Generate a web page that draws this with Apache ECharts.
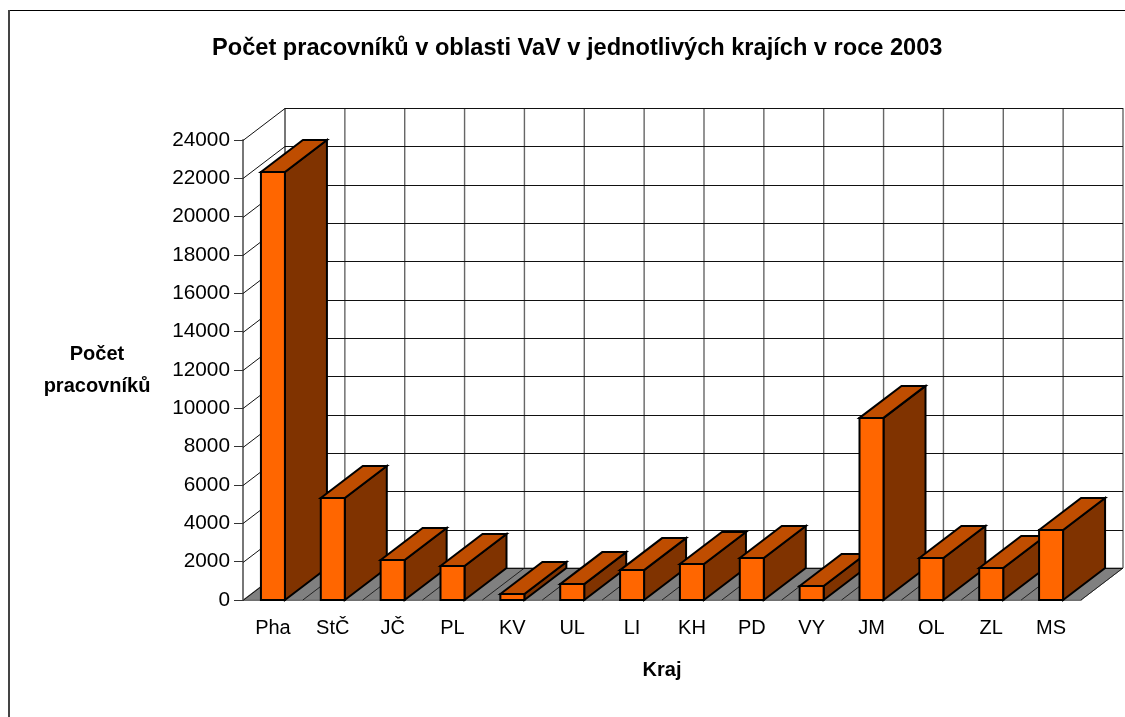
<!DOCTYPE html>
<html><head><meta charset="utf-8">
<style>html,body{margin:0;padding:0;background:#fff}#c{width:1125px;height:717px}</style>
<script src="https://cdn.jsdelivr.net/npm/echarts@6/dist/echarts.min.js"></script>
</head><body><div id="c"></div>
<script>
const categories = ['Pha','StČ','JČ','PL','KV','UL','LI','KH','PD','VY','JM','OL','ZL','MS'];
const workers = [22330,5320,2090,1770,310,830,1560,1880,2190,730,9500,2190,1670,3650];
const yTicks = [0,2000,4000,6000,8000,10000,12000,14000,16000,18000,20000,22000,24000];
const DX = 42, DY = -32, BAR = 24;
const FONT = '"Liberation Sans", Arial, sans-serif';

const chart = echarts.init(document.getElementById('c'), null, {renderer:'canvas'});

function floorItem(params, api){
  const band = api.size([1,0])[0];
  const idx = api.value(0);
  const p = api.coord([idx,0]);
  const x0 = p[0]-band/2, y0 = p[1];
  const kids = [];
  if(idx===0){
    const x1 = x0 + band*categories.length;
    kids.push({type:'polygon',shape:{points:[[x0,y0],[x0+DX,y0+DY],[x1+DX,y0+DY],[x1,y0]]},style:{fill:'#808080',stroke:'#6a6a6a',lineWidth:1}});
    kids.push({type:'line',shape:{x1:x0+DX,y1:y0+DY,x2:x0+DX,y2:y0+DY-460},style:{stroke:'#777',lineWidth:2}});
  }
  const k = idx+1;
  if(k<=categories.length){
    const xb = x0+band+DX;
    kids.push({type:'line',shape:{x1:xb,y1:y0+DY,x2:xb,y2:y0+DY-460},style:{stroke:'#666',lineWidth:1.4}});
    kids.push({type:'line',shape:{x1:x0+band,y1:y0,x2:xb,y2:y0+DY},style:{stroke:'#222',lineWidth:1}});
  }
  return {type:'group',children:kids};
}
function wallItem(params, api){
  const p = api.coord([0,api.value(0)]);
  const band = api.size([1,0])[0];
  const x0 = p[0]-band/2, y = Math.round(p[1])+0.5;
  const x1 = x0+band*categories.length;
  return {type:'group',children:[
    {type:'line',shape:{x1:x0,y1:y,x2:x0+DX,y2:y+DY},style:{stroke:'#111',lineWidth:1}},
    {type:'line',shape:{x1:x0+DX,y1:y+DY,x2:x1+DX,y2:y+DY},style:{stroke:'#111',lineWidth:1.2}}
  ]};
}
function barItem(params, api){
  const c = api.coord([api.value(0),api.value(1)]);
  const b = api.coord([api.value(0),0]);
  const l = c[0]-BAR/2, r = c[0]+BAR/2, t = c[1], y0 = b[1];
  const st = f=>({fill:f,stroke:'#000',lineWidth:2,lineJoin:'miter'});
  return {type:'group',children:[
    {type:'polygon',shape:{points:[[r,y0],[r+DX,y0+DY],[r+DX,t+DY],[r,t]]},style:st('#803300')},
    {type:'polygon',shape:{points:[[l,t],[l+DX,t+DY],[r+DX,t+DY],[r,t]]},style:st('#BF4D00')},
    {type:'polygon',shape:{points:[[l,y0],[l,t],[r,t],[r,y0]]},style:st('#FF6600')}
  ]};
}

chart.setOption({
  animation:false,
  backgroundColor:'#fff',
  title:{text:'Počet pracovníků v oblasti VaV v jednotlivých krajích v roce 2003',left:207,top:31,
    textStyle:{fontFamily:FONT,fontWeight:'bold',fontSize:23.6,color:'#000'}},
  grid:{left:243,right:44,top:140,bottom:117,containLabel:false},
  xAxis:{type:'category',data:categories,
    axisLine:{show:true,lineStyle:{color:'#777',width:1}},
    axisTick:{show:false},
    axisLabel:{fontFamily:FONT,fontSize:20,color:'#000',margin:18,interval:0},
    name:'Kraj',nameLocation:'middle',nameGap:60,
    nameTextStyle:{fontFamily:FONT,fontWeight:'bold',fontSize:20,color:'#000'}},
  yAxis:{type:'value',min:0,max:24000,interval:2000,
    axisLine:{show:true,lineStyle:{color:'#777',width:2}},
    axisTick:{show:true,length:9,lineStyle:{color:'#333',width:1}},
    axisLabel:{fontFamily:FONT,fontSize:20.8,color:'#000',margin:13,formatter:v=>String(v)},
    splitLine:{show:false},
    name:'Počet\npracovníků',nameLocation:'middle',nameRotate:0,nameGap:146,
    nameTextStyle:{fontFamily:FONT,fontWeight:'bold',fontSize:20,color:'#000',lineHeight:32,align:'center'}},
  graphic:[
    {type:'line',silent:true,shape:{x1:9,y1:10.5,x2:1125,y2:10.5},style:{stroke:'#000',lineWidth:1}},
    {type:'line',silent:true,shape:{x1:9,y1:10,x2:9,y2:717},style:{stroke:'#444',lineWidth:2}}
  ],
  series:[
    {type:'custom',coordinateSystem:'cartesian2d',clip:false,z:1,silent:true,renderItem:floorItem,
      encode:{x:0},data:categories.map((c,i)=>[i])},
    {type:'custom',coordinateSystem:'cartesian2d',clip:false,z:2,silent:true,renderItem:wallItem,
      encode:{y:0},data:yTicks.map(v=>[v])},
    {type:'custom',coordinateSystem:'cartesian2d',clip:false,z:3,silent:true,renderItem:barItem,
      encode:{x:0,y:1},data:workers.map((v,i)=>[i,v])}
  ]
});
</script></body></html>
